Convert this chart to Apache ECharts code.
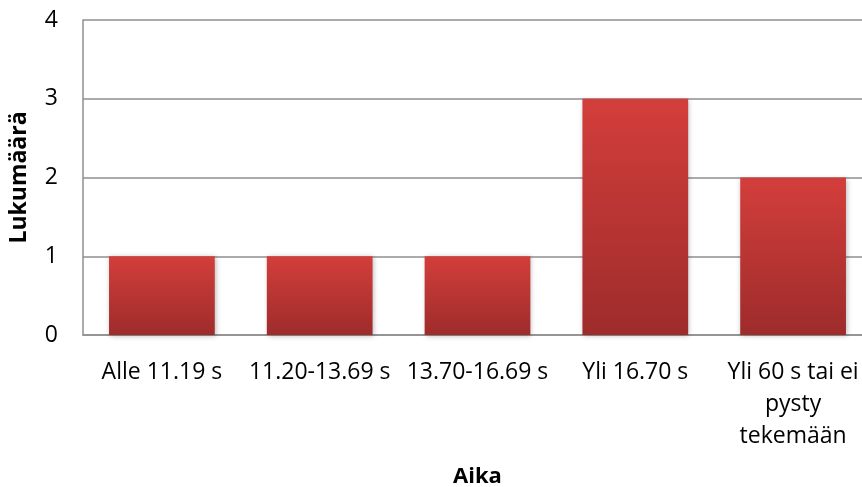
<!DOCTYPE html>
<html>
<head>
<meta charset="utf-8">
<script src="https://cdn.jsdelivr.net/npm/echarts@6/dist/echarts.min.js"></script>
<style>
  html, body { margin: 0; padding: 0; background: #ffffff; }
  #chart { width: 862px; height: 487px; }
</style>
</head>
<body>
<div id="chart"></div>
<script>
// Time classes and the number of results in each
const categories = ['Alle 11.19 s', '11.20-13.69 s', '13.70-16.69 s', 'Yli 16.70 s', 'Yli 60 s tai ei\npysty\ntekemään'];
const counts = [1, 1, 1, 3, 2];
const yTicks = { min: 0, max: 4, interval: 1 };

const FONT = '"Open Sans", "Noto Sans", sans-serif';
const GRID_GREY = '#8f8f8f';

const chart = echarts.init(document.getElementById('chart'), null, { renderer: 'canvas' });

chart.setOption({
  animation: false,
  backgroundColor: '#ffffff',
  grid: { left: 83, right: -10, top: 20, bottom: 152, containLabel: false, outerBoundsMode: 'none' },
  xAxis: {
    type: 'category',
    data: categories,
    name: 'Aika',
    nameLocation: 'middle',
    nameGap: 131,
    nameTextStyle: { fontFamily: FONT, fontSize: 22, fontWeight: 'bold', color: '#000' },
    axisLine: { show: true, lineStyle: { color: GRID_GREY, width: 1.5 } },
    axisTick: { show: false },
    axisLabel: {
      interval: 0,
      margin: 21,
      fontFamily: FONT,
      fontSize: 23,
      lineHeight: 32,
      color: '#000'
    }
  },
  yAxis: {
    type: 'value',
    min: yTicks.min,
    max: yTicks.max,
    interval: yTicks.interval,
    name: 'Lukumäärä',
    nameLocation: 'middle',
    nameGap: 52,
    nameRotate: 90,
    nameTextStyle: { fontFamily: FONT, fontSize: 23, fontWeight: 'bold', color: '#000' },
    axisLine: { show: true, lineStyle: { color: GRID_GREY, width: 1.5 } },
    axisTick: { show: false },
    axisLabel: { margin: 25, fontFamily: FONT, fontSize: 23, color: '#000' },
    splitLine: { show: true, lineStyle: { color: GRID_GREY, width: 1.5 } }
  },
  series: [{
    type: 'bar',
    data: counts,
    barCategoryGap: '33%',
    itemStyle: {
      color: new echarts.graphic.LinearGradient(0, 0, 0, 1, [
        { offset: 0, color: '#d33e3b' },
        { offset: 1, color: '#9d2c2b' }
      ]),
      shadowColor: 'rgba(0,0,0,0.28)',
      shadowBlur: 5,
      shadowOffsetX: 1,
      shadowOffsetY: 1
    }
  }]
});
</script>
</body>
</html>
